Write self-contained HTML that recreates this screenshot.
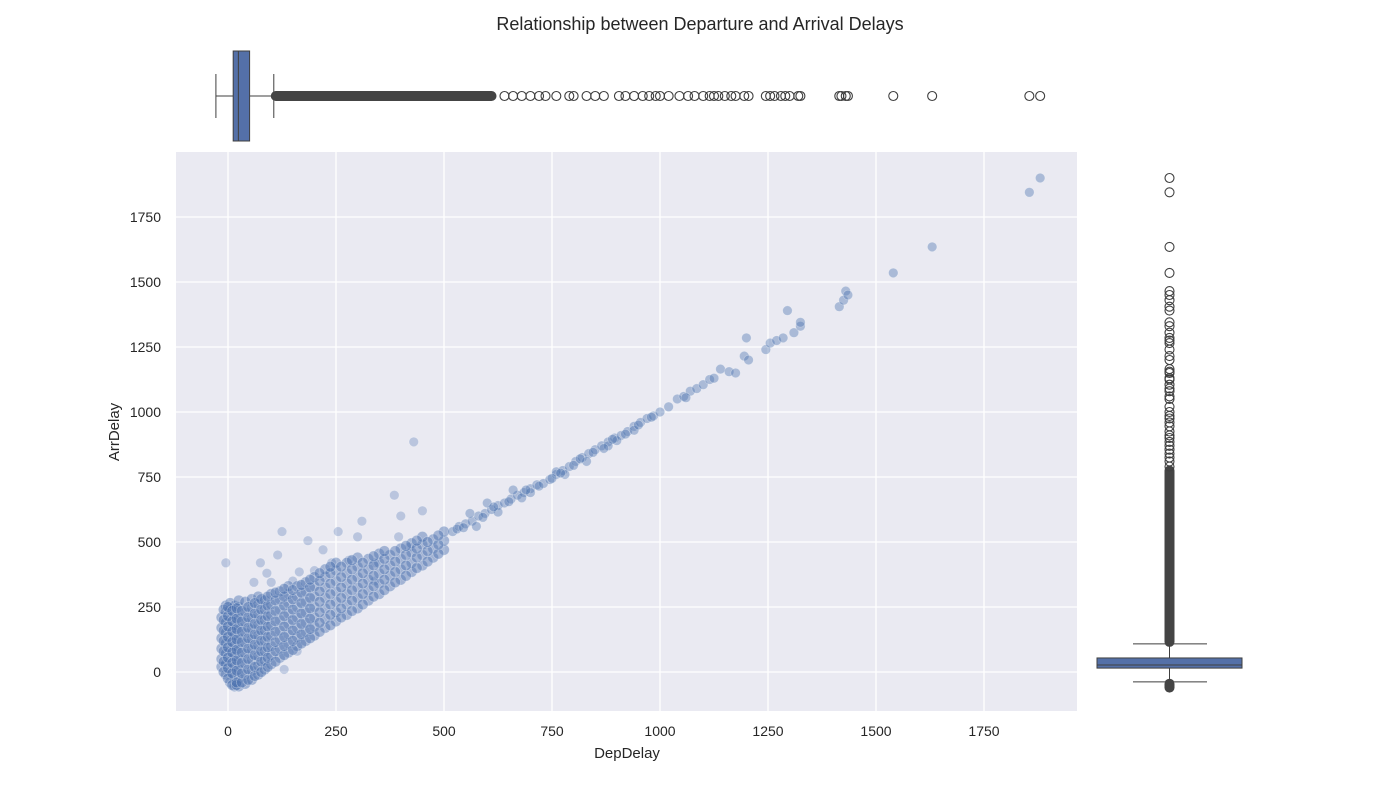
<!DOCTYPE html>
<html><head><meta charset="utf-8"><style>
html,body{margin:0;padding:0;background:#fff;}
svg{display:block;font-family:"Liberation Sans","DejaVu Sans",sans-serif;}
</style></head><body>
<svg id="chart" width="1400" height="800" viewBox="0 0 1400 800" xmlns="http://www.w3.org/2000/svg">
<text x="700" y="30" text-anchor="middle" font-size="18" fill="#262626">Relationship between Departure and Arrival Delays</text>
<rect x="176" y="152" width="901" height="559" fill="#eaeaf2"/>
<g id="grid"></g>
<g id="points"></g>
<g id="ticks"></g>
<text x="627" y="758" text-anchor="middle" font-size="15" fill="#262626">DepDelay</text>
<text transform="translate(119,432) rotate(-90)" text-anchor="middle" font-size="15" fill="#262626">ArrDelay</text>
<g id="topbox"></g>
<g id="rightbox"></g>
</svg>
<script>
const xTicks=[0,250,500,750,1000,1250,1500,1750];
const yTicks=[0,250,500,750,1000,1250,1500,1750];
const coreCloud=[
[-15,20],[-15,50],[-15,90],[-15,130],[-15,170],[-15,210],
[-5,-10],[-5,30],[-5,70],[-5,110],[-5,150],[-5,190],[-5,230],[-5,255],
[5,-40],[5,0],[5,40],[5,80],[5,120],[5,160],[5,200],[5,240],[5,265],
[15,-55],[15,-20],[15,20],[15,60],[15,100],[15,140],[15,180],[15,220],[15,255],
[25,-55],[25,-25],[25,10],[25,50],[25,90],[25,130],[25,170],[25,210],[25,250],[25,275],
[40,-45],[40,-10],[40,30],[40,70],[40,110],[40,150],[40,190],[40,230],[40,270],
[55,-30],[55,5],[55,45],[55,85],[55,125],[55,165],[55,205],[55,245],[55,280],
[70,-10],[70,25],[70,60],[70,100],[70,140],[70,180],[70,220],[70,260],[70,290],
[85,10],[85,45],[85,80],[85,120],[85,160],[85,200],[85,240],[85,275],
[100,30],[100,65],[100,100],[100,140],[100,180],[100,220],[100,260],[100,300],
[120,55],[120,90],[120,125],[120,160],[120,200],[120,240],[120,280],[120,310],
[140,75],[140,110],[140,145],[140,185],[140,225],[140,265],[140,300],[140,330],
[160,100],[160,135],[160,170],[160,210],[160,250],[160,290],[160,330],
[180,120],[180,155],[180,190],[180,230],[180,270],[180,310],[180,345],
[200,140],[200,175],[200,210],[200,250],[200,290],[200,330],[200,365],
[225,170],[225,205],[225,245],[225,285],[225,325],[225,365],[225,395],
[250,195],[250,230],[250,270],[250,310],[250,350],[250,390],[250,420],
[275,220],[275,260],[275,300],[275,340],[275,380],[275,420],
[300,245],[300,285],[300,325],[300,365],[300,405],[300,440],
[325,275],[325,315],[325,355],[325,395],[325,435],
[350,300],[350,340],[350,380],[350,420],[350,455],
[375,330],[375,370],[375,410],[375,450],
[400,355],[400,395],[400,435],[400,475],
[425,385],[425,420],[425,460],[425,495],
[450,410],[450,450],[450,490],[450,520],
[475,440],[475,475],[475,510],
[500,470],[500,505],[500,540]];
const coreFill=[
[-10,0],[-10,40],[-10,80],[-10,120],[-10,160],[-10,200],[-10,240],
[0,-25],[0,15],[0,55],[0,95],[0,135],[0,175],[0,215],[0,250],
[10,-50],[10,-5],[10,35],[10,75],[10,115],[10,155],[10,195],[10,235],
[20,-50],[20,-40],[20,5],[20,45],[20,85],[20,125],[20,165],[20,205],[20,245],
[32,-40],[32,-5],[32,35],[32,75],[32,115],[32,155],[32,195],[32,235],
[47,-30],[47,10],[47,50],[47,90],[47,130],[47,170],[47,210],[47,250],
[62,-15],[62,20],[62,65],[62,105],[62,145],[62,185],[62,225],[62,265],
[77,0],[77,40],[77,80],[77,120],[77,160],[77,200],[77,240],[77,280],
[92,20],[92,55],[92,95],[92,135],[92,175],[92,215],[92,255],[92,290],
[110,40],[110,80],[110,115],[110,155],[110,195],[110,235],[110,275],[110,305],
[130,65],[130,100],[130,135],[130,175],[130,215],[130,255],[130,290],[130,320],
[150,85],[150,120],[150,160],[150,200],[150,240],[150,280],[150,315],
[170,110],[170,145],[170,185],[170,225],[170,265],[170,305],[170,335],
[190,130],[190,165],[190,205],[190,245],[190,285],[190,325],[190,355],
[212,155],[212,190],[212,230],[212,270],[212,310],[212,350],[212,380],
[237,180],[237,220],[237,260],[237,300],[237,340],[237,380],[237,405],
[262,210],[262,245],[262,285],[262,325],[262,365],[262,405],
[287,235],[287,275],[287,315],[287,355],[287,395],[287,430],
[312,260],[312,300],[312,340],[312,380],[312,420],
[337,290],[337,330],[337,370],[337,410],[337,445],
[362,315],[362,355],[362,395],[362,435],[362,465],
[387,345],[387,385],[387,425],[387,465],
[412,370],[412,410],[412,450],[412,485],
[437,400],[437,440],[437,475],[437,505],
[462,425],[462,465],[462,500],
[487,455],[487,490],[487,525]];
const tailPoints=[
[520,540],[535,560],[550,570],[565,580],[580,600],[595,610],[610,625],[625,640],[640,650],[655,665],[670,680],[685,690],[700,705],[715,720],[730,725],[745,740],[760,760],[775,775],[790,790],[805,810],[820,825],[835,840],[850,855],[865,870],[880,885],[895,900],[910,910],[925,925],[940,945],[955,960],[970,975],[985,985],[1000,1000],[1020,1020],[1040,1050],[1055,1060],[1070,1080],[1085,1090],[1100,1105],[1115,1125],[1125,1130],[1140,1165],[1160,1155],[1175,1150],[1195,1215],[1205,1200],[1200,1285],[1245,1240],[1255,1265],[1270,1275],[1285,1285],[1295,1390],[1310,1305],[1325,1330],[1325,1345],[1415,1405],[1425,1430],[1430,1465],[1435,1450],[1540,1535],[1630,1635],[1855,1845],[1880,1900],
[560,610],[600,650],[660,700],[700,690],[780,760],[830,810],[760,770],[900,890],[940,930],[1060,1055],[880,870],[625,615],[575,560],[680,670],
[530,550],[545,555],[590,595],[615,635],[650,655],[690,700],[720,715],[750,745],[770,765],[800,795],[815,820],[845,845],[870,860],[890,895],[920,915],[950,950],[980,980]];
const sparsePoints=[[-5,420],[75,420],[115,450],[125,540],[100,345],[165,385],[185,505],[200,390],[255,540],[300,520],[310,580],[340,420],[385,680],[400,600],[430,885],[450,620],[280,430],[220,470],[150,350],[240,420],[60,345],[90,380],[395,520],[420,480],[130,10],[160,80],[340,350]];
// box plot stats: [whiskerLow, q1, median, q3, whiskerHigh]
const depStats=[-28,12,24,50,106];
const arrStats=[-38,15,27,54,108];
const depOutlierDense=[106,610];
const depOutliers=[640,660,680,700,720,735,760,790,800,830,850,870,905,920,940,960,975,990,1000,1020,1045,1065,1080,1100,1115,1125,1135,1150,1165,1175,1195,1205,1245,1255,1265,1280,1290,1300,1320,1325,1415,1420,1430,1435,1540,1630,1855,1880];
const arrOutlierDense=[108,775];
const arrLowDense=[-45,-60];
const arrOutliers=[1900,1845,1635,1535,1465,1450,1430,1405,1390,1345,1330,1305,1285,1275,1265,1240,1215,1200,1165,1155,1150,1130,1125,1105,1090,1080,1060,1050,1020,1000,985,975,960,945,925,910,900,885,870,855,840,825,810,790];

const NS="http://www.w3.org/2000/svg";
const X=v=>228+v*0.432;
const Y=v=>672-v*0.26;
function mk(tag,attrs,parent){const e=document.createElementNS(NS,tag);for(const k in attrs)e.setAttribute(k,attrs[k]);parent.appendChild(e);return e;}
const grid=document.getElementById('grid'),ticks=document.getElementById('ticks'),pts=document.getElementById('points');
xTicks.forEach(t=>{
  const l=mk('line',{x1:X(t),x2:X(t),y1:152,y2:711,stroke:'#fff','stroke-width':1.3},grid);
  
  
  const tx=mk('text',{x:X(t),y:736,'text-anchor':'middle','font-size':14,fill:'#262626'},ticks);
  tx.textContent=t;
  
  
});
yTicks.forEach(t=>{
  const l=mk('line',{x1:176,x2:1077,y1:Y(t),y2:Y(t),stroke:'#fff','stroke-width':1.3},grid);
  
  
  const tx=mk('text',{x:161,y:Y(t)+5,'text-anchor':'end','font-size':14,fill:'#262626'},ticks);
  tx.textContent=t;
  
  
});
function drawPts(arr,r,op){arr.forEach(p=>{
  const c=mk('circle',{cx:X(p[0]),cy:Y(p[1]),r:r,fill:'#4c72b0','fill-opacity':op,stroke:'#fff','stroke-opacity':0.35,'stroke-width':0.7},pts);
  
  
});}
drawPts(sparsePoints,4.8,0.3);
drawPts(coreCloud,5.4,0.45);
drawPts(coreFill,5.4,0.45);
drawPts(tailPoints,4.8,0.4);
// top boxplot (horizontal)
const tb=document.getElementById('topbox');const cy=96,lc='#3f3f3f';
mk('line',{x1:X(depStats[0]),x2:X(depStats[1]),y1:cy,y2:cy,stroke:lc,'stroke-width':1},tb);
mk('line',{x1:X(depStats[3]),x2:X(depStats[4]),y1:cy,y2:cy,stroke:lc,'stroke-width':1},tb);
mk('line',{x1:X(depStats[0]),x2:X(depStats[0]),y1:74,y2:118,stroke:lc,'stroke-width':1},tb);
mk('line',{x1:X(depStats[4]),x2:X(depStats[4]),y1:74,y2:118,stroke:lc,'stroke-width':1},tb);
const tbx=mk('rect',{x:X(depStats[1]),y:51,width:X(depStats[3])-X(depStats[1]),height:90,fill:'#5470a8',stroke:lc,'stroke-width':1},tb);


mk('line',{x1:X(depStats[2]),x2:X(depStats[2]),y1:51,y2:141,stroke:lc,'stroke-width':1},tb);
const td=mk('line',{x1:X(depOutlierDense[0])+2,x2:X(depOutlierDense[1]),y1:cy,y2:cy,stroke:'#444','stroke-width':10,'stroke-linecap':'round'},tb);


depOutliers.forEach(v=>{
  const c=mk('circle',{cx:X(v),cy:cy,r:4.5,fill:'none',stroke:'#3f3f3f','stroke-width':1.1},tb);
  
  
});
// right boxplot (vertical)
const rb=document.getElementById('rightbox');const cx=1169.5;
mk('line',{x1:cx,x2:cx,y1:Y(arrStats[0]),y2:Y(arrStats[1]),stroke:lc,'stroke-width':1},rb);
mk('line',{x1:cx,x2:cx,y1:Y(arrStats[3]),y2:Y(arrStats[4]),stroke:lc,'stroke-width':1},rb);
mk('line',{x1:1133,x2:1207,y1:Y(arrStats[0]),y2:Y(arrStats[0]),stroke:lc,'stroke-width':1},rb);
mk('line',{x1:1133,x2:1207,y1:Y(arrStats[4]),y2:Y(arrStats[4]),stroke:lc,'stroke-width':1},rb);
const rbx=mk('rect',{x:1097,y:Y(arrStats[3]),width:145,height:Y(arrStats[1])-Y(arrStats[3]),fill:'#5470a8',stroke:lc,'stroke-width':1},rb);


mk('line',{x1:1097,x2:1242,y1:Y(arrStats[2]),y2:Y(arrStats[2]),stroke:lc,'stroke-width':1},rb);
const rd=mk('line',{x1:cx,x2:cx,y1:Y(arrOutlierDense[0])-2,y2:Y(arrOutlierDense[1]),stroke:'#444','stroke-width':10,'stroke-linecap':'round'},rb);


const rl=mk('line',{x1:cx,x2:cx,y1:Y(arrLowDense[0]),y2:Y(arrLowDense[1]),stroke:'#444','stroke-width':10,'stroke-linecap':'round'},rb);


arrOutliers.forEach(v=>{
  const c=mk('circle',{cx:cx,cy:Y(v),r:4.5,fill:'none',stroke:'#3f3f3f','stroke-width':1.1},rb);
  
  
});
</script>
</body></html>
